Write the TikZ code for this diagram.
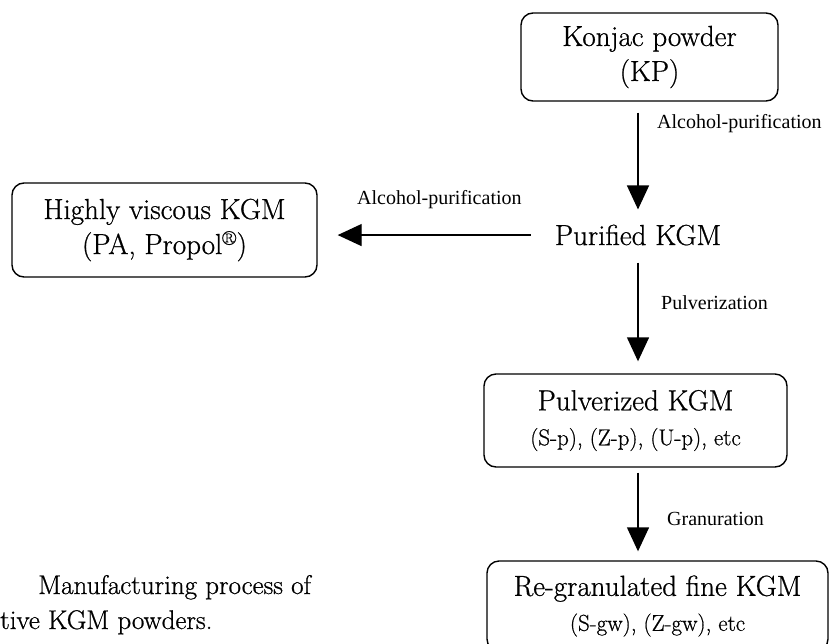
\documentclass[tikz,border=0pt]{standalone}
\usepackage{fontspec}
\setmainfont{Latin Modern Roman}[FakeBold=0.7]
\newfontfamily\labfont{Liberation Serif}
\usetikzlibrary{arrows.meta}
\newcommand{\mainfs}{\fontsize{29}{35}\selectfont}
\newcommand{\subfs}{\fontsize{23}{27}\selectfont}
\newcommand{\capfs}{\fontsize{27}{35}\selectfont}
\newcommand{\labfs}{\labfont\fontsize{20}{24}\selectfont}
\begin{document}
\begin{tikzpicture}[x=1pt,y=-1pt,
  box/.style={draw,line width=1.4pt,rounded corners=12pt,align=center,inner sep=0pt,font=\mainfs},
  plain/.style={inner sep=0pt,font=\mainfs},
  lab/.style={inner sep=0pt,font=\labfs,anchor=west},
  arr/.style={line width=1.4pt,-{Triangle[length=24pt,width=22pt]}}]
\useasboundingbox (0,0) rectangle (832,643);
\clip (0,0) rectangle (832,643);
% boxes
\node[box,minimum width=257pt,minimum height=88pt] (kp) at (649.5,57) {Konjac powder\\(KP)};
\node[box,minimum width=305pt,minimum height=94pt] (hv) at (164.5,230) {Highly viscous KGM\\(PA, Propol\textsuperscript{\textregistered})};
\node[plain,anchor=base] (pur) at (638,245) {Purified KGM};
\node[box,minimum width=303pt,minimum height=93pt] (pul) at (635.5,420.5) {Pulverized KGM\\{\subfs (S-p), (Z-p), (U-p), etc}};
\node[box,minimum width=341pt,minimum height=90pt] (rg) at (657.5,606) {Re-granulated fine KGM\\{\subfs (S-gw), (Z-gw), etc}};
% arrows
\draw[arr,shorten <=11pt,shorten >=15pt] (kp.south -| pur.north) -- (pur.north);
\draw[arr,shorten <=24pt,shorten >=20pt] (pur.west) -- (pur.west -| hv.east);
\draw[arr,shorten <=17pt,shorten >=12pt] (pur.south) -- (pur.south |- pul.north);
\draw[arr,shorten <=5pt,shorten >=9pt] (pul.south -| pur.south) -- (pur.south |- rg.north);
% labels
\node[lab] (l1) at (657,124) {Alcohol-purification};
\node[lab] (l2) at (357,200) {Alcohol-purification};
\node[lab] (l3) at (661,303) {Pulverization};
\node[lab] (l4) at (667,519) {Granuration};
% caption
\node[plain,font=\capfs,anchor=base west] (cap1) at (38,594) {Manufacturing process of};
\node[plain,font=\capfs,anchor=base west] (cap2) at (0,629) {tive KGM powders.};
\end{tikzpicture}
\end{document}
